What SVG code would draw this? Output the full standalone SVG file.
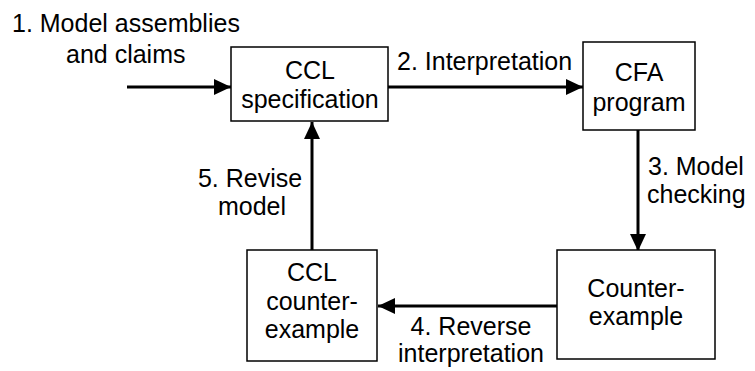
<svg xmlns="http://www.w3.org/2000/svg" width="755" height="371" viewBox="0 0 755 371">
  <style>
    text { font-family: "Liberation Sans", Arial, sans-serif; font-size: 25px; fill: #000; }
    .mid { text-anchor: middle; }
    .box { fill: #fff; stroke: #000; stroke-width: 1.5; }
    .flow { fill: none; stroke: #000; stroke-width: 3; marker-end: url(#head); }
  </style>
  <defs>
    <marker id="head" markerUnits="userSpaceOnUse" markerWidth="18" markerHeight="18" viewBox="0 0 18 18" refX="17" refY="9" orient="auto">
      <path d="M0,1 L17,9 L0,17 Z" fill="#000"/>
    </marker>
  </defs>

  <!-- connectors -->
  <g id="connectors">
    <line class="flow" x1="127" y1="87" x2="231" y2="87"/>
    <line class="flow" x1="388" y1="87" x2="583" y2="87"/>
    <line class="flow" x1="638" y1="130" x2="638" y2="251"/>
    <line class="flow" x1="559" y1="306" x2="378" y2="306"/>
    <line class="flow" x1="312" y1="250" x2="312" y2="122"/>
  </g>

  <!-- edge labels -->
  <g id="labels">
    <text x="12" y="32">1. Model assemblies</text>
    <text x="66" y="63">and claims</text>
    <text x="397" y="70">2. Interpretation</text>
    <text x="648" y="175">3. Model</text>
    <text x="647" y="203">checking</text>
    <text class="mid" x="471" y="335">4. Reverse</text>
    <text class="mid" x="471" y="362">interpretation</text>
    <text class="mid" x="250" y="187">5. Revise</text>
    <text class="mid" x="252" y="215">model</text>
  </g>

  <g id="ccl-spec">
    <rect class="box" x="231" y="47" width="157" height="74"/>
    <text class="mid" x="310" y="79">CCL</text>
    <text class="mid" x="310" y="108">specification</text>
  </g>

  <g id="cfa-program">
    <rect class="box" x="583" y="42" width="112" height="88"/>
    <text class="mid" x="639" y="81">CFA</text>
    <text class="mid" x="639" y="111">program</text>
  </g>

  <g id="counterexample">
    <rect class="box" x="557" y="250" width="158" height="109"/>
    <text class="mid" x="636" y="297">Counter-</text>
    <text class="mid" x="636" y="325">example</text>
  </g>

  <g id="ccl-counterexample">
    <rect class="box" x="247" y="250" width="130" height="111"/>
    <text class="mid" x="312" y="281">CCL</text>
    <text class="mid" x="312" y="310">counter-</text>
    <text class="mid" x="312" y="338">example</text>
  </g>
</svg>
